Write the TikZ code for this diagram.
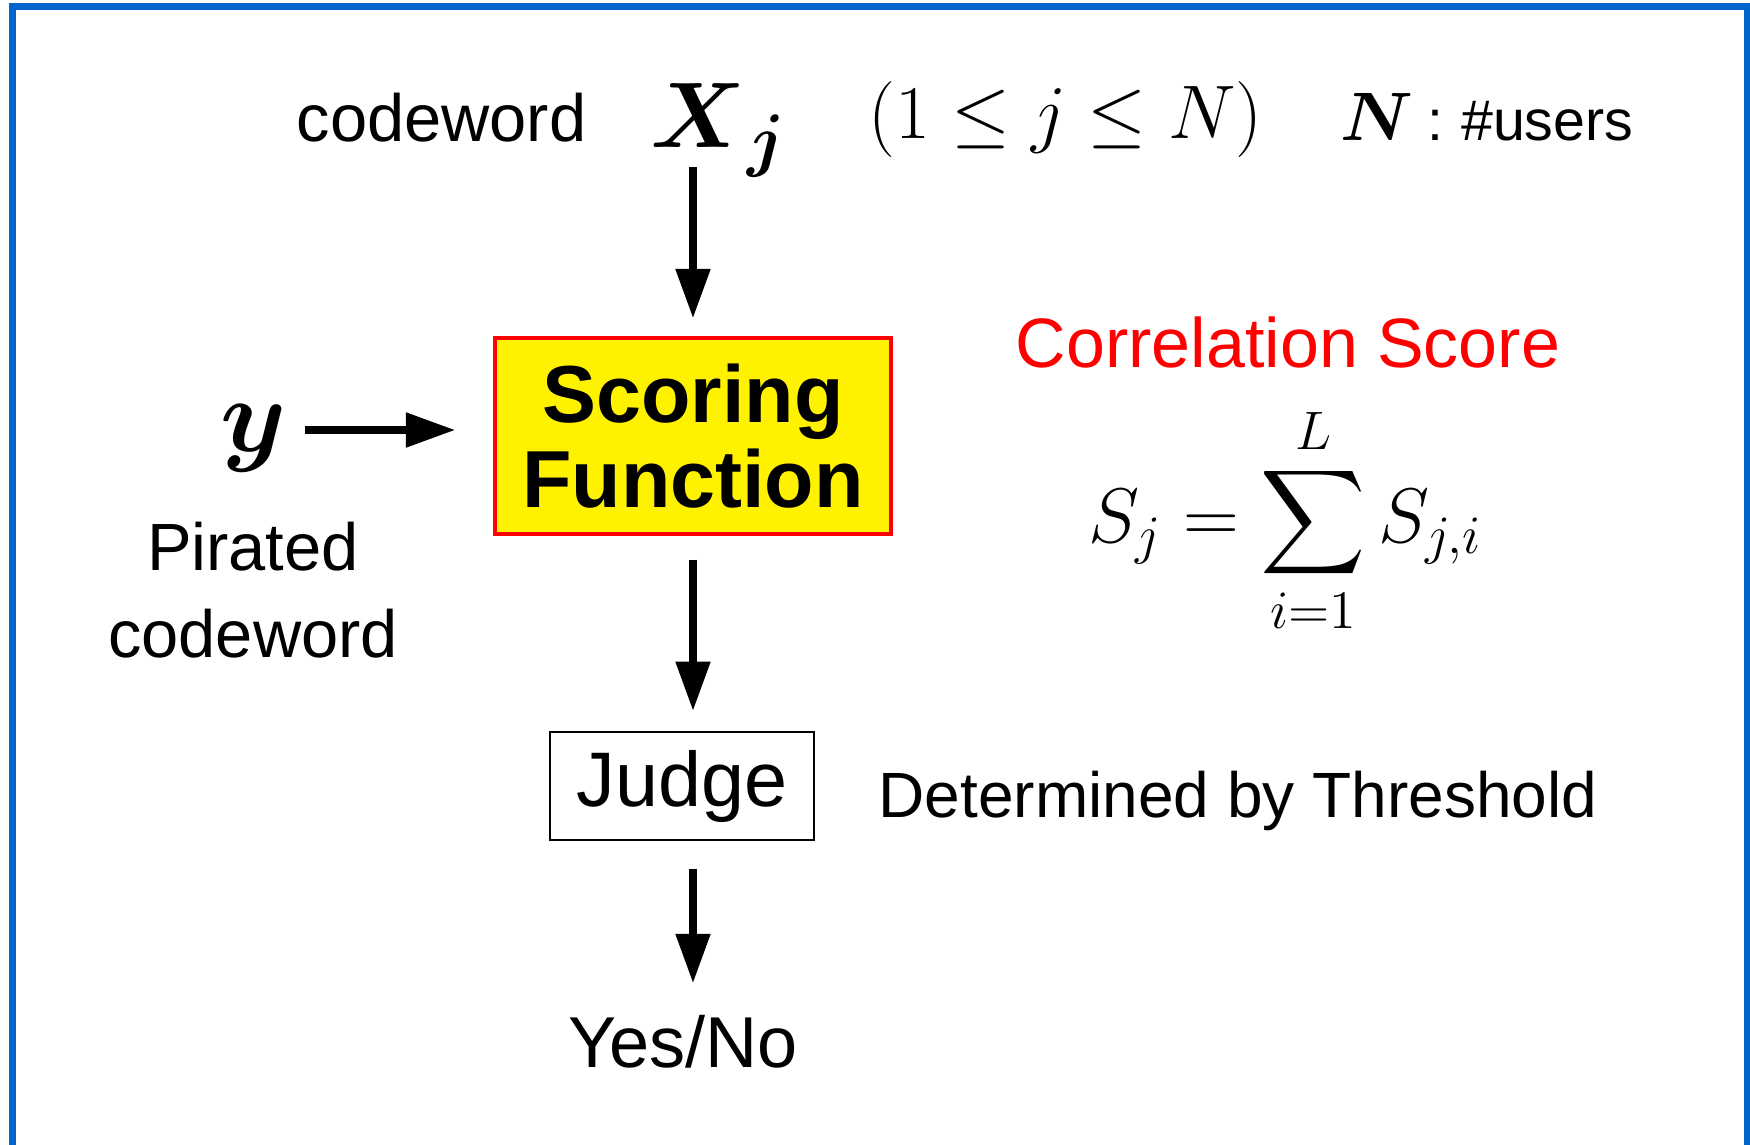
\RequirePackage{fix-cm}
\documentclass[tikz,border=0pt]{standalone}
\usepackage{amsmath,bm}
\usepackage[no-math]{fontspec}
\setmainfont{Liberation Sans}
\usetikzlibrary{arrows.meta,calc}
\definecolor{frameblue}{RGB}{0,102,204}
\begin{document}
\begin{tikzpicture}[x=0.01cm,y=-0.01cm,
  arr/.style={line width=2pt,-{Triangle[length=14pt,width=9.5pt]}},
  lbl/.style={inner sep=0pt},
  scorebox/.style={draw=red,line width=1pt,fill=yellow,minimum width=3.96cm,
    minimum height=1.96cm,inner sep=0pt,align=center,
    font=\fontsize{23}{24.4}\selectfont\bfseries},
  judgebox/.style={draw,line width=0.6pt,fill=white,minimum width=2.64cm,
    minimum height=1.08cm,inner sep=0pt,font=\fontsize{22}{26}\selectfont}]
\useasboundingbox (0,0) rectangle (1750,1145);
\clip (0,0) rectangle (1750,1145);
\fill[white] (0,0) rectangle (1750,1145);
% outer frame, open at the bottom edge
\draw[frameblue,line width=2pt] (12.5,6.5) rectangle (1748,1300);

% top line: codeword and user index
\node[lbl,anchor=base west,font=\fontsize{19}{23}\selectfont] (cw) at (296,141) {codeword};
\node[lbl,anchor=base west,font=\fontsize{26.5}{30}\selectfont] (xj) at (650,147)
  {$\boldsymbol{X}$\kern0.5pt\raisebox{-4.8pt}{\fontsize{20}{24}\selectfont$\boldsymbol{j}$}};
\node[lbl,anchor=base west,font=\fontsize{21.6}{26}\selectfont] (range) at (868,138) {$(1\leq j\leq N)$};
\node[lbl,anchor=base west] (nu) at (1340,140)
  {{\fontsize{19.5}{23}\selectfont$\boldsymbol{N}$}\fontsize{16.3}{20}\selectfont\hspace{4pt}:\hspace{5pt}\#users};

% main blocks
\node[scorebox] (score) at (693,436) {Scoring\\Function};
\node[judgebox] (judge) at (682,786) {Judge};

% pirated input
\node[lbl,font=\fontsize{30}{34}\selectfont] (yv) at (254,438) {$\boldsymbol{y}$};
\node[lbl,align=center,font=\fontsize{19}{24.75}\selectfont] (pc) at (253,590) {Pirated\\codeword};

% side notes
\node[lbl,anchor=base west,text=red,font=\fontsize{19.9}{24}\selectfont] (corr) at (1015,367) {Correlation Score};
\node[lbl,anchor=base west,font=\fontsize{22}{26}\selectfont] (sum) at (1088,542) {$\displaystyle S_j=\sum_{i=1}^{L}S_{j,i}$};
\node[lbl,anchor=base west,font=\fontsize{18.2}{22}\selectfont] (det) at (878,817) {Determined by Threshold};

% output
\node[lbl,anchor=base,font=\fontsize{20.5}{24}\selectfont] (yn) at (683,1067) {Yes/No};

% connectors
\draw[arr] ($(score.north)+(0,-169)$) -- ($(score.north)+(0,-18)$);
\draw[arr] ($(score.west)+(-188,-6)$) -- ($(score.west)+(-38,-6)$);
\draw[arr] ($(score.south)+(0,24)$) -- ($(score.south)+(0,175)$);
\draw[arr] ($(judge.south -| score.south)+(0,28)$) -- ($(judge.south -| score.south)+(0,142)$);
\end{tikzpicture}
\end{document}
